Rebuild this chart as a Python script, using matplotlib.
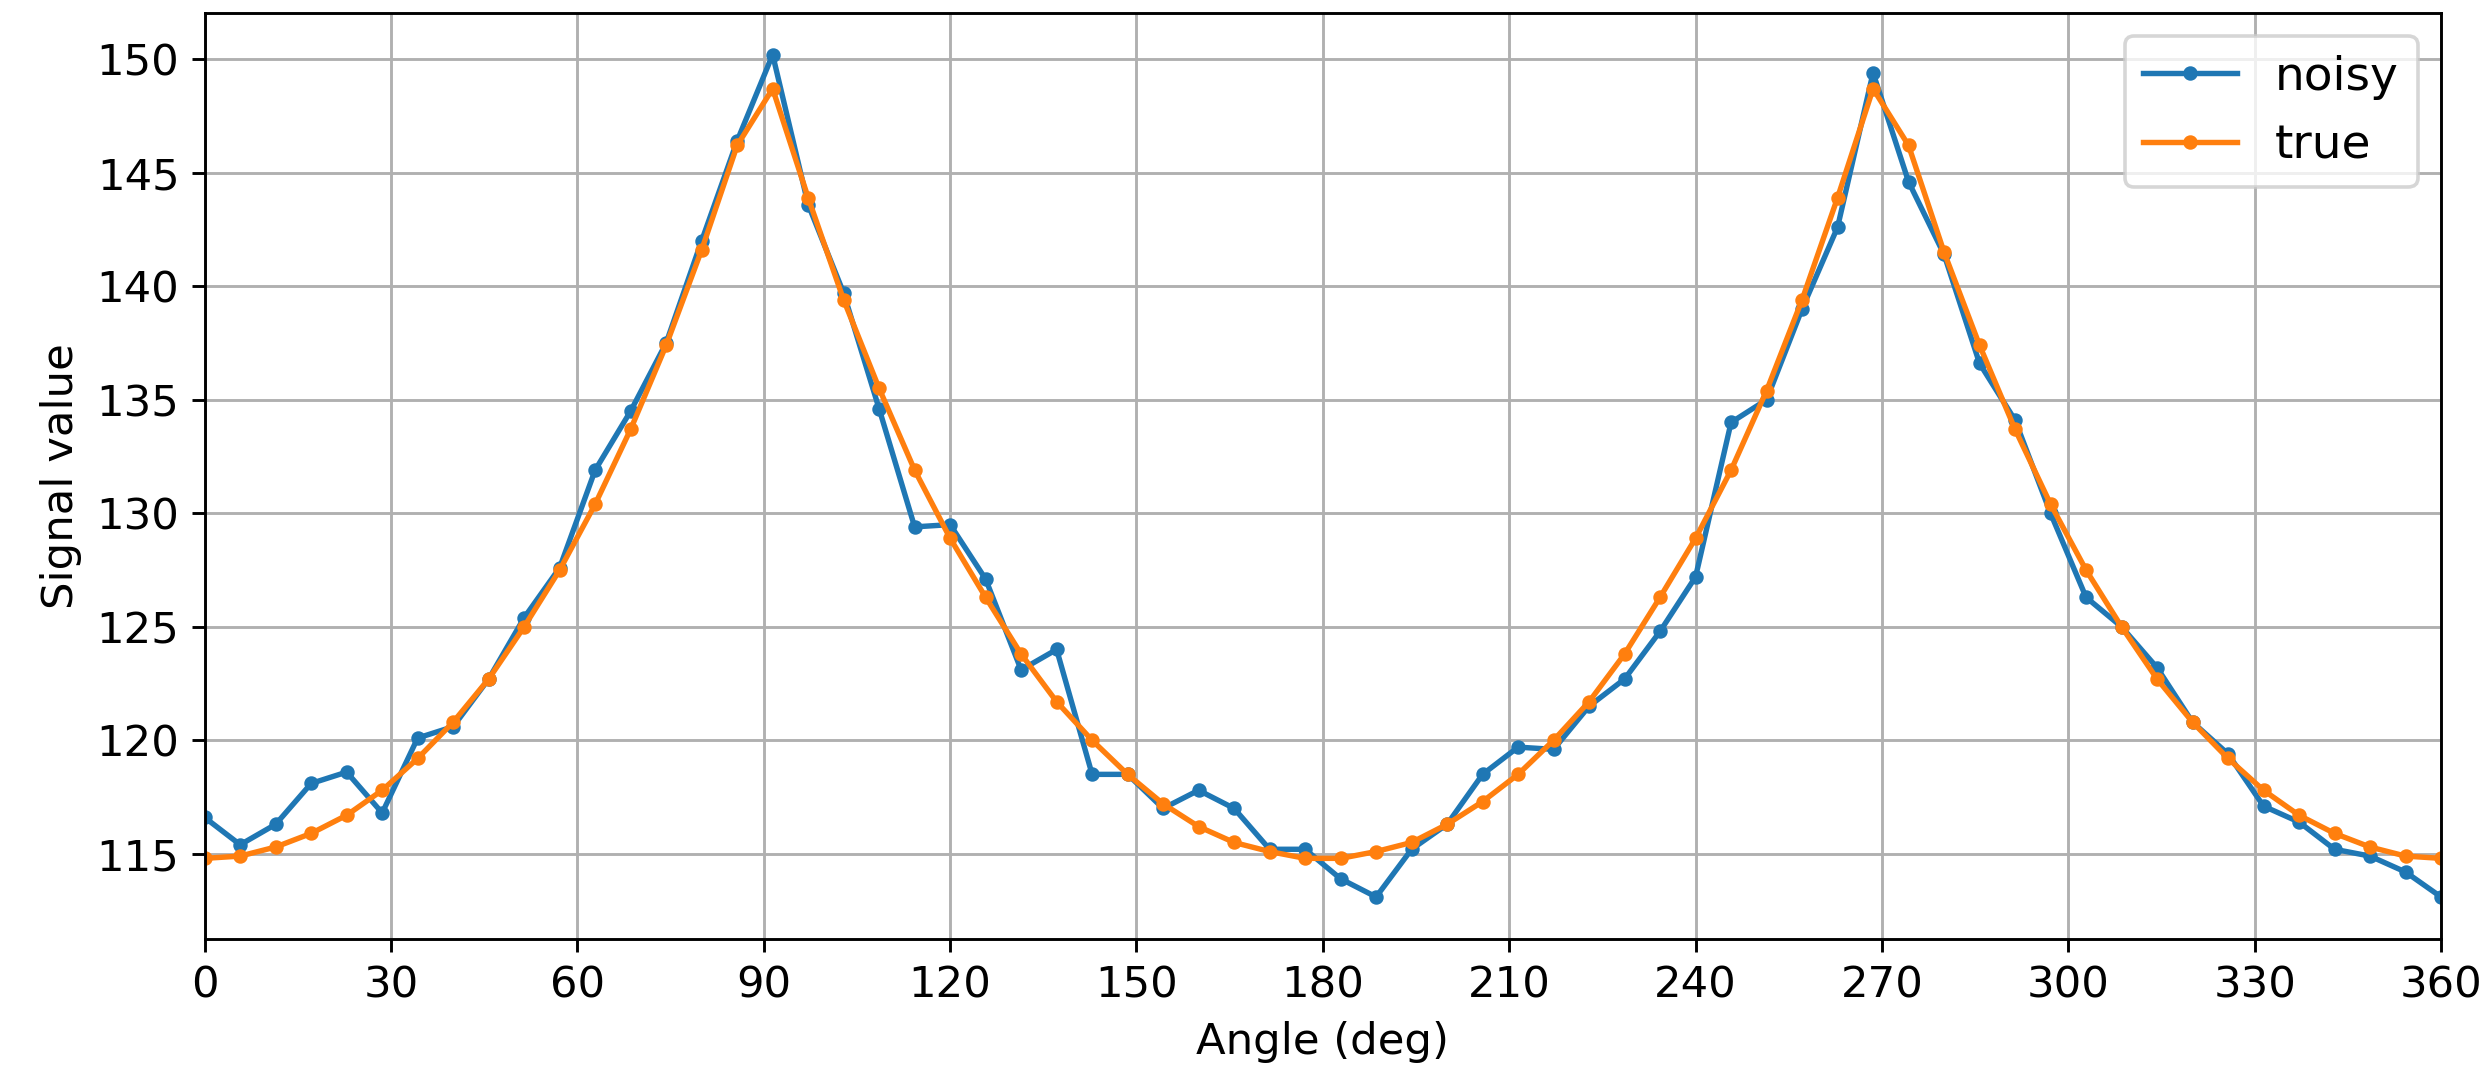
import numpy as np
import matplotlib.pyplot as plt

# -----------------------------
# Données
# -----------------------------
n_points = 64
angles = np.linspace(0, 360, n_points)  # deg

noisy = [116.6, 115.4, 116.3, 118.1, 118.6, 116.8, 120.1, 120.6, 122.7, 125.4,
         127.6, 131.9, 134.5, 137.5, 142.0, 146.4, 150.2, 143.6, 139.7, 134.6,
         129.4, 129.5, 127.1, 123.1, 124.0, 118.5, 118.5, 117.0, 117.8, 117.0,
         115.2, 115.2, 113.9, 113.1, 115.2, 116.3, 118.5, 119.7, 119.6, 121.5,
         122.7, 124.8, 127.2, 134.0, 135.0, 139.0, 142.6, 149.4, 144.6, 141.4,
         136.6, 134.1, 130.0, 126.3, 125.0, 123.2, 120.8, 119.4, 117.1, 116.4,
         115.2, 114.9, 114.2, 113.1]

true = [114.8, 114.9, 115.3, 115.9, 116.7, 117.8, 119.2, 120.8, 122.7, 125.0,
        127.5, 130.4, 133.7, 137.4, 141.6, 146.2, 148.7, 143.9, 139.4, 135.5,
        131.9, 128.9, 126.3, 123.8, 121.7, 120.0, 118.5, 117.2, 116.2, 115.5,
        115.1, 114.8, 114.8, 115.1, 115.5, 116.3, 117.3, 118.5, 120.0, 121.7,
        123.8, 126.3, 128.9, 131.9, 135.4, 139.4, 143.9, 148.7, 146.2, 141.5,
        137.4, 133.7, 130.4, 127.5, 125.0, 122.7, 120.8, 119.2, 117.8, 116.7,
        115.9, 115.3, 114.9, 114.8]

xticks = np.arange(0, 361, 30)

# -----------------------------
# Tracé
# -----------------------------
plt.rcParams['font.size'] = 12

fig = plt.figure(figsize=(2484 / 260, 1072 / 260), dpi=260)
plt.subplots_adjust(left=0.0824, right=0.9827, bottom=0.124, top=0.9883)

plt.plot(angles, noisy, marker='.', label='noisy')
plt.plot(angles, true, marker='.', label='true')
plt.xlabel("Angle (deg)")
plt.ylabel("Signal value")
plt.xticks(xticks)
plt.xlim(0, 360)
plt.grid(True)
plt.legend(loc='upper right', fontsize=13)

plt.savefig("out.png", dpi=260)
